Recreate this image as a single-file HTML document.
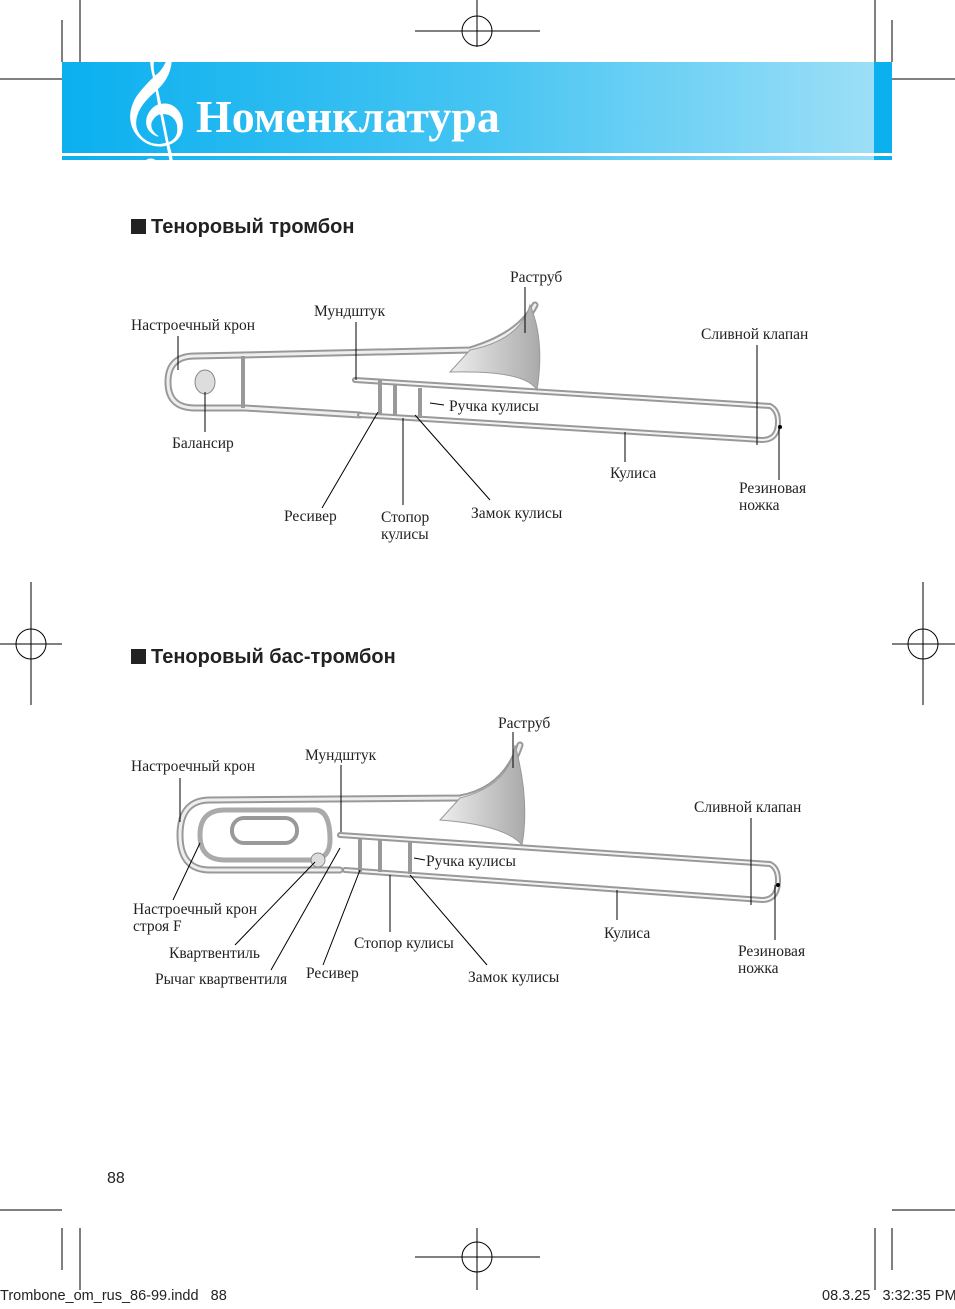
<!DOCTYPE html>
<html><head><meta charset="utf-8"><style>
body{margin:0;width:955px;height:1309px;background:#fff;position:relative;overflow:hidden;font-family:"Liberation Serif",serif;}
.t{position:absolute;font-size:15.5px;color:#222;line-height:17px;white-space:nowrap}
.h{position:absolute;font-family:"Liberation Sans",sans-serif;font-weight:bold;font-size:20px;color:#222}
.h:before{content:"";display:inline-block;width:15px;height:15px;background:#222;margin-right:5px;vertical-align:-1px}
</style></head><body>
<svg width="955" height="1309" style="position:absolute;left:0;top:0">
<defs><linearGradient id="g" x1="0" x2="1"><stop offset="0" stop-color="#0bb0ef"/><stop offset="0.5" stop-color="#45c4f2"/><stop offset="1" stop-color="#a0e0f7"/></linearGradient>
<linearGradient id="bell" x1="0" x2="1"><stop offset="0" stop-color="#eee"/><stop offset="1" stop-color="#aaa"/></linearGradient></defs>
<g stroke="#000" stroke-width="1" fill="none">
<path d="M80 0V62M62 62V20M0 79H62M892 79H955M875 0V62M892 62V20"/>
<path d="M477 0V47M415 31H540"/><circle cx="477" cy="31" r="15"/>
<path d="M31 582V705M0 644H62"/><circle cx="31" cy="644" r="15"/>
<path d="M923 582V705M892 644H955"/><circle cx="923" cy="644" r="15"/>
<path d="M80 1228V1290M62 1228V1270M0 1210H62M892 1210H955M875 1228V1290M892 1228V1270"/>
<path d="M477 1228V1290M415 1257H540"/><circle cx="477" cy="1257" r="15"/>
</g>
<rect x="62" y="62" width="830" height="98" fill="url(#g)"/>
<rect x="874" y="62" width="18" height="98" fill="#0bb0ef"/>
<rect x="62" y="153" width="830" height="3" fill="#fff"/>
<text x="152" y="145" font-size="125" fill="#fff" font-family="DejaVu Serif,serif" text-anchor="middle">𝄞</text>
<!-- trombone 1 -->
<g fill="none" stroke-linecap="round">
<path d="M535 305 Q520 335 470 350 L195 356 Q168 356 168 382 Q168 408 195 408 L245 408 Q280 410 360 415" stroke="#999" stroke-width="7"/>
<path d="M535 305 Q520 335 470 350 L195 356 Q168 356 168 382 Q168 408 195 408 L245 408 Q280 410 360 415" stroke="#eee" stroke-width="3"/>
<path d="M355 380 L770 406 Q778 410 778 422 Q778 440 762 440 L360 415" stroke="#999" stroke-width="6"/>
<path d="M355 380 L770 406 Q778 410 778 422 Q778 440 762 440 L360 415" stroke="#f4f4f4" stroke-width="2"/>
</g>
<path d="M470 350 Q520 340 530 305 Q545 340 537 390 Q525 370 450 372 Z" fill="url(#bell)" stroke="#999"/>
<ellipse cx="205" cy="382" rx="10" ry="12" fill="#ddd" stroke="#888"/>
<path d="M243 356V408M380 380V415M395 385V415M420 388V418" stroke="#999" stroke-width="4"/>
<!-- trombone 2 -->
<g fill="none" stroke-linecap="round">
<path d="M520 745 Q505 790 460 798 L210 800 Q180 800 180 835 Q180 870 210 870 L340 870" stroke="#999" stroke-width="7"/>
<path d="M520 745 Q505 790 460 798 L210 800 Q180 800 180 835 Q180 870 210 870 L340 870" stroke="#eee" stroke-width="3"/>
<path d="M225 810 L315 810 Q330 810 330 840 Q330 860 310 860 L225 860 Q200 860 200 835 Q200 810 225 810" stroke="#aaa" stroke-width="5"/>
<rect x="232" y="818" width="65" height="25" rx="12" fill="none" stroke="#999" stroke-width="4"/>
<path d="M340 835 L770 864 Q778 868 778 880 Q778 900 762 900 L345 870" stroke="#999" stroke-width="6"/>
<path d="M340 835 L770 864 Q778 868 778 880 Q778 900 762 900 L345 870" stroke="#f4f4f4" stroke-width="2"/>
</g>
<path d="M460 798 Q510 785 515 745 Q530 800 522 845 Q505 825 440 820 Z" fill="url(#bell)" stroke="#999"/>
<circle cx="318" cy="860" r="7" fill="#ddd" stroke="#888"/>
<path d="M360 838V872M380 840V872M410 842V874" stroke="#999" stroke-width="4"/>
<circle cx="780" cy="427" r="2" fill="#000"/><circle cx="778" cy="885" r="2" fill="#000"/>
<!-- leader lines -->
<g stroke="#000" stroke-width="1">
<path d="M525 287V333M178 336V370M356 322V380M205 392V432M757 345V445M779 428V480M625 432V462M322 508L378 412M403 505V418M490 500L415 415M430 403L444 405"/>
<path d="M513 732V768M180 778V822M341 765V832M751 818V905M775 885V940M617 890V920M173 900L200 843M235 945L315 862M271 970L340 848M323 965L360 870M390 932V875M487 965L410 875M414 858L425 860"/>
</g>
</svg>
<div class="t" style="left:196px;top:90px;font-size:46px;line-height:54px;color:#fff;font-weight:bold">Номенклатура</div>
<div class="h" style="left:131px;top:216px">Теноровый тромбон</div>
<div class="h" style="left:131px;top:646px">Теноровый бас-тромбон</div>
<div class="t" style="left:510px;top:269px">Раструб</div>
<div class="t" style="left:131px;top:317px">Настроечный крон</div>
<div class="t" style="left:314px;top:303px">Мундштук</div>
<div class="t" style="left:701px;top:326px">Сливной клапан</div>
<div class="t" style="left:449px;top:398px">Ручка кулисы</div>
<div class="t" style="left:172px;top:435px">Балансир</div>
<div class="t" style="left:610px;top:465px">Кулиса</div>
<div class="t" style="left:739px;top:480px">Резиновая<br>ножка</div>
<div class="t" style="left:284px;top:508px">Ресивер</div>
<div class="t" style="left:381px;top:509px">Стопор<br>кулисы</div>
<div class="t" style="left:471px;top:505px">Замок кулисы</div>
<div class="t" style="left:498px;top:715px">Раструб</div>
<div class="t" style="left:131px;top:758px">Настроечный крон</div>
<div class="t" style="left:305px;top:747px">Мундштук</div>
<div class="t" style="left:694px;top:799px">Сливной клапан</div>
<div class="t" style="left:426px;top:853px">Ручка кулисы</div>
<div class="t" style="left:133px;top:901px">Настроечный крон<br>строя F</div>
<div class="t" style="left:604px;top:925px">Кулиса</div>
<div class="t" style="left:354px;top:935px">Стопор кулисы</div>
<div class="t" style="left:738px;top:943px">Резиновая<br>ножка</div>
<div class="t" style="left:169px;top:945px">Квартвентиль</div>
<div class="t" style="left:306px;top:965px">Ресивер</div>
<div class="t" style="left:468px;top:969px">Замок кулисы</div>
<div class="t" style="left:155px;top:971px">Рычаг квартвентиля</div>
<div class="t" style="left:107px;top:1170px;font-family:'Liberation Sans',sans-serif;font-size:16px">88</div>
<div class="t" style="left:0px;top:1288px;font-family:'Liberation Sans',sans-serif;font-size:14.5px">Trombone_om_rus_86-99.indd&nbsp;&nbsp;&nbsp;88</div>
<div class="t" style="left:822px;top:1288px;font-family:'Liberation Sans',sans-serif;font-size:14.5px">08.3.25&nbsp;&nbsp;&nbsp;3:32:35 PM</div>
</body></html>
